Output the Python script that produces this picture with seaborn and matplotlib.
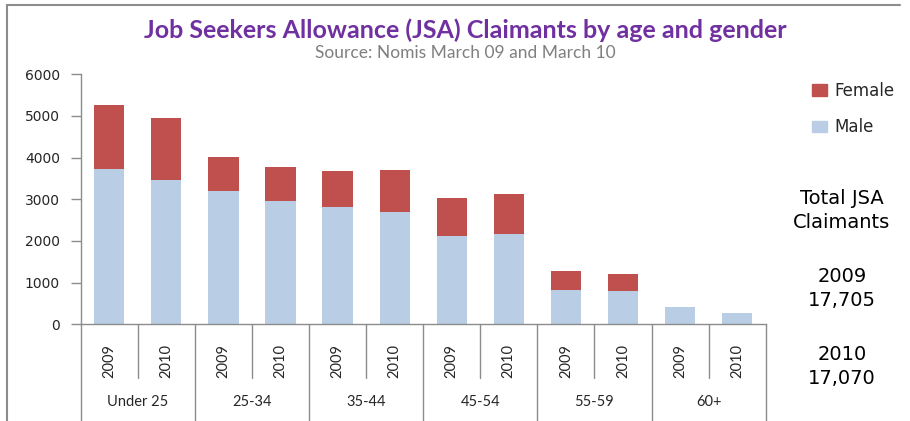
import numpy as np
import pandas as pd
import matplotlib
matplotlib.use("Agg")
import matplotlib.pyplot as plt
from matplotlib.lines import Line2D
from matplotlib.patches import Patch
import seaborn as sns

# data
age_groups = ["Under 25", "25-34", "35-44", "45-54", "55-59", "60+"]
years = ["2009", "2010"]
male = [3730, 3465, 3200, 2960, 2825, 2700, 2130, 2160, 830, 800, 415, 265]
female = [1530, 1480, 810, 820, 850, 1010, 900, 975, 440, 400, 0, 0]
totals_text = {"2009": "17,705", "2010": "17,070"}

male_col = "#B9CDE5"
female_col = "#C0504D"
axis_col = "#8c8c8c"

slots = [f"{a} {y}" for a in age_groups for y in years]
df = pd.DataFrame({
    "slot": slots,
    "year": [y for a in age_groups for y in years],
    "male": male,
    "female": female,
})
df["total"] = df["male"] + df["female"]

sns.set_style("white")
plt.rcParams["font.family"] = ["DejaVu Sans"]

fig = plt.figure(figsize=(9.1, 4.21), dpi=100)
ax = fig.add_axes([0.0887, 0.2297, 0.7527, 0.5938])

# stacked bars: total (female colour) underneath, male on top of it
sns.barplot(data=df, x="slot", y="total", order=slots, color=female_col,
            saturation=1, width=0.53, ax=ax, linewidth=0)
sns.barplot(data=df, x="slot", y="male", order=slots, color=male_col,
            saturation=1, width=0.53, ax=ax, linewidth=0)

ax.set_xlim(-0.5, len(slots) - 0.5)
ax.set_ylim(0, 6000)
ax.set_yticks(range(0, 6001, 1000))
ax.set_xlabel("")
ax.set_ylabel("")
for s in ["top", "right"]:
    ax.spines[s].set_visible(False)
for s in ["left", "bottom"]:
    ax.spines[s].set_color(axis_col)
    ax.spines[s].set_linewidth(1)
ax.tick_params(axis="y", direction="out", length=7, width=1, color=axis_col,
               labelsize=10, pad=8, left=True)
ax.set_xticks(range(len(slots)))
ax.set_xticklabels(df["year"], rotation=90, fontsize=10.5,
                   fontfamily="Lato")
ax.tick_params(axis="x", length=0, pad=14)

# category separators below the axis
tr = ax.get_xaxis_transform()
for i in range(len(slots) + 1):
    x = i - 0.5
    y_end = -0.39 if i % 2 == 0 else -0.216
    ax.add_line(Line2D([x, x], [0, y_end], transform=tr, color=axis_col,
                       lw=1, clip_on=False))
for g, name in enumerate(age_groups):
    ax.text(2 * g + 0.5, -0.312, name, transform=tr, ha="center", va="center",
            fontsize=10.5, fontfamily="Lato")

# titles
fig.text(0.511, 1 - 30 / 421, "Job Seekers Allowance (JSA) Claimants by age and gender",
         ha="center", va="center", fontsize=18, fontweight="bold",
         color="#7030A0", fontfamily="Lato")
fig.text(0.511, 1 - 53 / 421, "Source: Nomis March 09 and March 10",
         ha="center", va="center", fontsize=12.5, color="#7f7f7f",
         fontfamily="Lato")

# legend
handles = [Patch(color=female_col, label="Female"),
           Patch(color=male_col, label="Male")]
fig.legend(handles=handles, loc="upper left",
           bbox_to_anchor=(812 / 910, 1 - 82 / 421), frameon=False,
           fontsize=12, handlelength=0.9, handleheight=0.7,
           handletextpad=0.45, labelspacing=1.1, borderpad=0, borderaxespad=0)

# totals box text
side = dict(ha="center", va="center", fontsize=14, color="black")
fig.text(842 / 910, 1 - 198 / 421, "Total JSA", **side)
fig.text(842 / 910, 1 - 223 / 421, "Claimants", **side)
fig.text(842 / 910, 1 - 277 / 421, "2009", **side)
fig.text(842 / 910, 1 - 301 / 421, totals_text["2009"], **side)
fig.text(842 / 910, 1 - 355 / 421, "2010", **side)
fig.text(842 / 910, 1 - 379 / 421, totals_text["2010"], **side)

# outer frame (top and left edge)
fig.add_artist(Line2D([7 / 910, 7 / 910], [0, 1 - 5 / 421],
                      transform=fig.transFigure, color=axis_col, lw=1.5))
fig.add_artist(Line2D([7 / 910, 900 / 910], [1 - 5 / 421, 1 - 5 / 421],
                      transform=fig.transFigure, color=axis_col, lw=1.5))

fig.savefig("out.png", dpi=100)
